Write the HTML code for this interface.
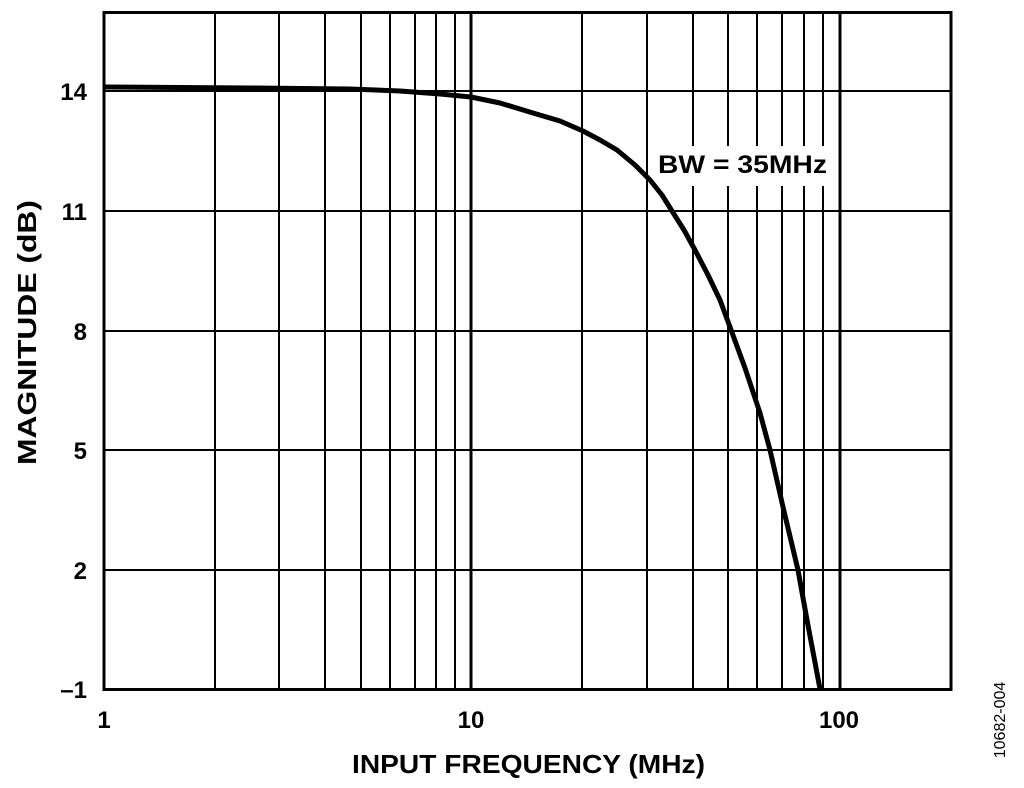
<!DOCTYPE html>
<html><head><style>body{margin:0;background:#fff}svg{display:block}</style></head><body>
<svg width="1024" height="788" xmlns="http://www.w3.org/2000/svg" font-family="Liberation Sans, Arial, sans-serif">
<rect width="1024" height="788" fill="#fff"/>
<g stroke="#000" stroke-width="2">
<line x1="215" y1="11" x2="215" y2="690"/><line x1="279" y1="11" x2="279" y2="690"/><line x1="325" y1="11" x2="325" y2="690"/><line x1="361" y1="11" x2="361" y2="690"/><line x1="390" y1="11" x2="390" y2="690"/><line x1="415" y1="11" x2="415" y2="690"/><line x1="436" y1="11" x2="436" y2="690"/><line x1="455" y1="11" x2="455" y2="690"/>
<line x1="582" y1="11" x2="582" y2="690"/><line x1="647" y1="11" x2="647" y2="690"/><line x1="693" y1="11" x2="693" y2="690"/><line x1="728" y1="11" x2="728" y2="690"/><line x1="757" y1="11" x2="757" y2="690"/><line x1="782" y1="11" x2="782" y2="690"/><line x1="804" y1="11" x2="804" y2="690"/><line x1="823" y1="11" x2="823" y2="690"/>
<line x1="103" y1="91" x2="951" y2="91"/><line x1="103" y1="211" x2="951" y2="211"/><line x1="103" y1="331" x2="951" y2="331"/><line x1="103" y1="450" x2="951" y2="450"/><line x1="103" y1="570" x2="951" y2="570"/>
</g>
<g stroke="#000" stroke-width="3"><line x1="471" y1="11" x2="471" y2="690"/><line x1="840" y1="11" x2="840" y2="690"/></g>
<rect x="104" y="12.5" width="847" height="677" fill="none" stroke="#000" stroke-width="3"/>
<rect x="652" y="146" width="178" height="40" fill="#fff"/>
<text x="658" y="173" font-size="25" font-weight="bold" textLength="169" lengthAdjust="spacingAndGlyphs">BW = 35MHz</text>
<path fill="none" stroke="#000" stroke-width="5" stroke-linejoin="round" d="M104,87 L250,88 L350,89 L400,91 L440,94 L471,97 L500,103 L533,113 L560,121 L583,131 L600,140 L617,150 L635,165 L650,180 L662,195 L672,211 L684,230 L695,250 L708,275 L720,300 L730,327 L745,368 L760,413 L770,450 L783,507 L798,570 L807,620 L820,689"/>
<g font-size="24" font-weight="bold" text-anchor="end">
<text x="87" y="100">14</text><text x="87" y="220">11</text><text x="87" y="340">8</text><text x="87" y="459">5</text><text x="87" y="579">2</text><text x="87" y="698">–1</text>
</g>
<g font-size="24" font-weight="bold" text-anchor="middle">
<text x="104" y="728">1</text><text x="471" y="728">10</text><text x="839" y="728">100</text>
</g>
<text x="352" y="773" font-size="26" font-weight="bold" textLength="353" lengthAdjust="spacingAndGlyphs">INPUT FREQUENCY (MHz)</text>
<text transform="translate(36,465) rotate(-90)" font-size="26" font-weight="bold" textLength="265" lengthAdjust="spacingAndGlyphs">MAGNITUDE (dB)</text>
<text transform="translate(1005,720) rotate(-90)" font-size="16" text-anchor="middle">10682-004</text>
</svg>
</body></html>
